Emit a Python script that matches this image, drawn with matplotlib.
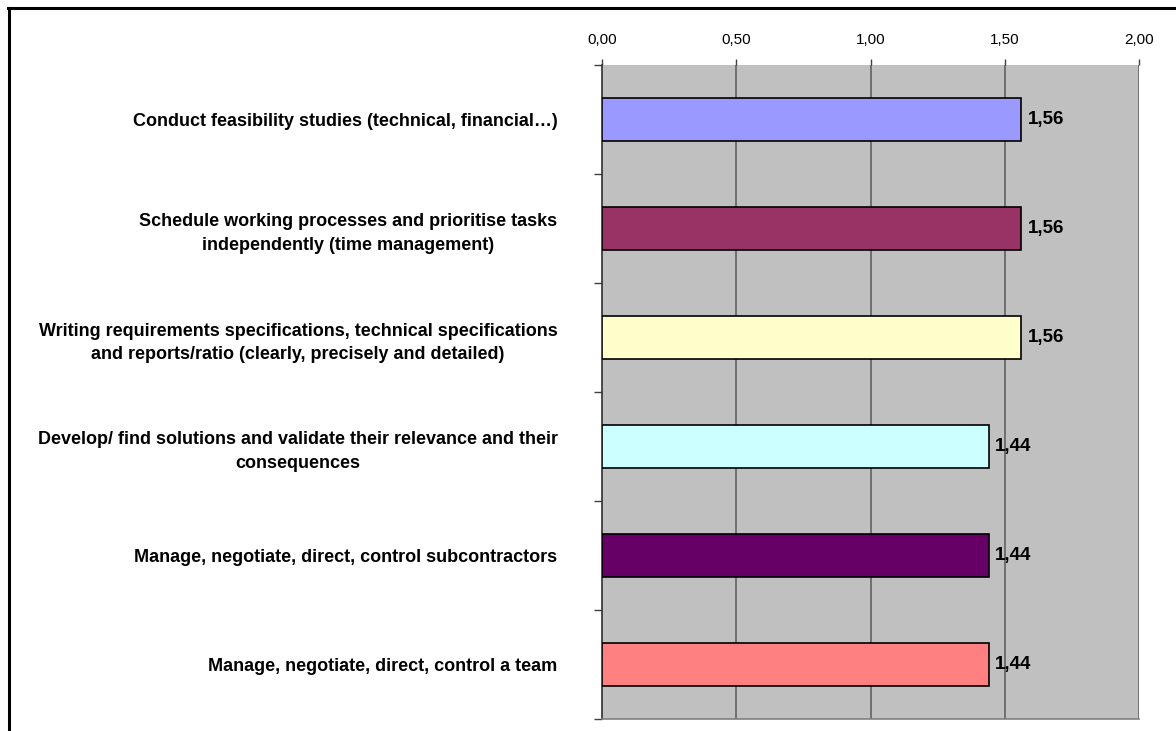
import matplotlib
matplotlib.use("Agg")
import matplotlib.pyplot as plt
from matplotlib.lines import Line2D
import numpy as np

categories = [
    "Conduct feasibility studies (technical, financial\u2026)",
    "Schedule working processes and prioritise tasks\nindependently (time management)",
    "Writing requirements specifications, technical specifications\nand reports/ratio (clearly, precisely and detailed)",
    "Develop/ find solutions and validate their relevance and their\nconsequences",
    "Manage, negotiate, direct, control subcontractors",
    "Manage, negotiate, direct, control a team",
]
values = [1.56, 1.56, 1.56, 1.44, 1.44, 1.44]
colors = ["#9999FF", "#993366", "#FFFFCC", "#CCFFFF", "#660066", "#FF8080"]
xticks = [0.0, 0.5, 1.0, 1.5, 2.0]
xticklabels = ["0,00", "0,50", "1,00", "1,50", "2,00"]

plt.rcParams['font.family'] = ['Liberation Sans', 'DejaVu Sans']

W, H = 1176, 731
fig = plt.figure(figsize=(W / 100, H / 100), dpi=100)
ax = fig.add_axes([602 / W, 1 - 719 / H, (1139 - 602) / W, (719 - 65) / H])
ax.set_facecolor("#C0C0C0")

n = len(categories)
y = np.arange(n)
ax.barh(y, values, height=0.40, color=colors, edgecolor="black", linewidth=1.2, zorder=3)
ax.set_xlim(0, 2.0)
ax.set_ylim(n - 0.5, -0.5)

for yi, v in zip(y, values):
    ax.text(v + 0.025, yi, f"{v:.2f}".replace(".", ","), va="center", ha="left",
            fontsize=13.5, fontweight="bold", zorder=4)

# x axis on top
ax.xaxis.tick_top()
ax.set_xticks(xticks)
ax.set_xticklabels(xticklabels, fontsize=11)
ax.tick_params(axis="x", direction="out", length=4, width=1, color="#404040", pad=9)
for xv in xticks[1:]:
    ax.axvline(xv, color="#5A5A5A", linewidth=1.1, zorder=1)

# y axis: labels at centers, tick marks at boundaries
ax.set_yticks(y)
ax.set_yticklabels(categories, fontsize=13, fontweight="bold",
                   multialignment="center", linespacing=1.5)
ax.tick_params(axis="y", which="major", length=0, pad=32)
ax.set_yticks(np.arange(-0.5, n, 1.0), minor=True)
ax.tick_params(axis="y", which="minor", length=6, width=1, color="#404040", direction="out")

for s in ["top", "right"]:
    ax.spines[s].set_visible(False)
ax.spines["left"].set_color("#303030")
ax.spines["left"].set_linewidth(1.2)
ax.spines["bottom"].set_color("#808080")
ax.spines["bottom"].set_linewidth(1.2)

# outer frame
fig.add_artist(Line2D([8 / W, 1.0], [1 - 8 / H, 1 - 8 / H], color="black", linewidth=2.2,
                      transform=fig.transFigure))
fig.add_artist(Line2D([9 / W, 9 / W], [0, 1 - 8 / H], color="black", linewidth=2.2,
                      transform=fig.transFigure))

fig.savefig("out.png", dpi=100)
